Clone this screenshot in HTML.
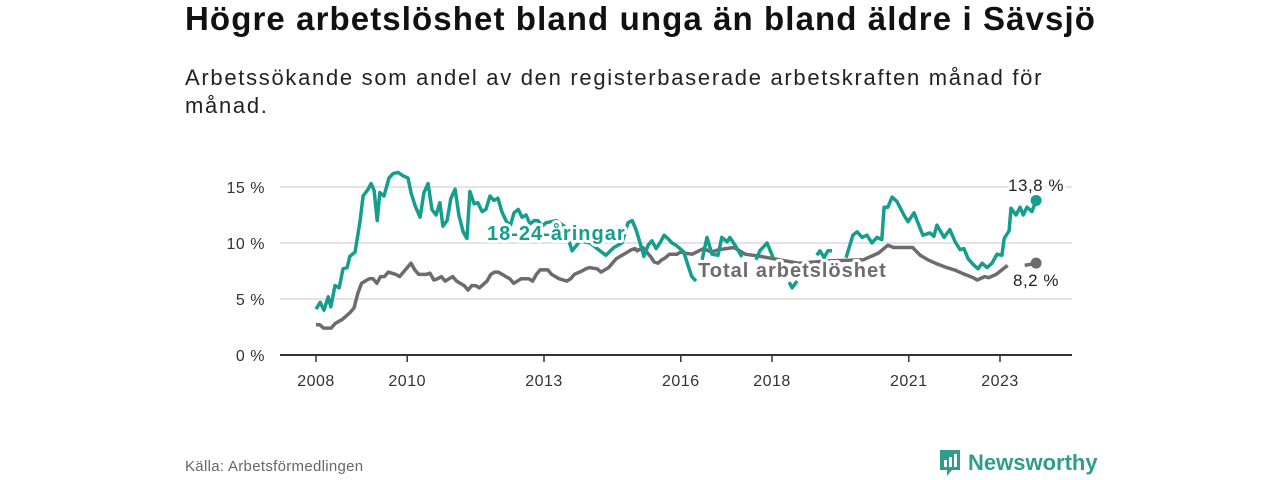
<!DOCTYPE html>
<html><head><meta charset="utf-8"><style>
body{margin:0;width:1280px;height:480px;background:#fff;font-family:"Liberation Sans","DejaVu Sans",sans-serif;overflow:hidden;position:relative}
.t{position:absolute;left:185px;top:0px;font-size:33px;font-weight:bold;color:#111;white-space:nowrap;letter-spacing:1.1px}
.s{position:absolute;left:185px;top:64px;font-size:22px;color:#222;line-height:28px;width:900px;letter-spacing:1.7px;white-space:nowrap}
.src{position:absolute;left:185px;top:458px;font-size:15px;color:#666;letter-spacing:0.3px}
</style></head><body>
<div class="t">Högre arbetslöshet bland unga än bland äldre i Sävsjö</div>
<div class="s">Arbetssökande som andel av den registerbaserade arbetskraften månad för<br>månad.</div>
<div class="src">Källa: Arbetsförmedlingen</div>
<svg width="1280" height="480" style="position:absolute;left:0;top:0" id="chart"></svg>
<script>
const yTicks=[0,5,10,15];
const yTickLabels=["0 %","5 %","10 %","15 %"];
const xTickYears=[2008,2010,2013,2016,2018,2021,2023];
const youthMonths=[0,1.1,2.1,3.2,3.9,5,6.1,7.1,8.2,8.9,10.3,11.6,12.4,13.7,14.5,15.3,16.1,16.8,17.9,19.2,20.3,21.6,22.9,24.2,25,26.1,27.4,28.4,29.5,30.5,31.6,32.6,33.4,34.5,35.5,36.6,37.6,38.7,39.7,40.5,41.6,42.6,43.7,44.7,45.8,46.8,47.9,48.9,50,51.1,52.1,53.2,54.2,55.3,56.3,57.4,58.4,59.5,60.5,63.2,65.3,67.4,69.5,72.1,74.7,76.3,78.4,80.5,82.1,83.2,84.2,85.3,86.3,87.4,88.4,89.5,90.5,91.6,92.6,93.7,94.7,95.8,96.8,97.9,98.9,100,100.8,101.6,102.9,104.2,105.8,106.8,108.2,108.9,110.3,112.1,114,115.8,116.8,118.7,120.3,122,124.5,125.3,126.6,129,131.8,132.6,133.7,134.7,135.8,138,139.5,141.3,142.4,143.7,145,146.3,147.6,148.9,149.5,150.5,151.6,152.9,154.7,155.8,157.4,158.4,159.7,161.6,162.6,163.4,165.3,166.8,168.2,169.5,170.5,171.6,172.9,174.2,175.3,176.6,177.9,179.2,180.5,181.1,182.4,182.9,184.2,185.3,186.1,187.1,188.4,189.5];
const youthValues=[4.1,4.7,4.0,5.2,4.3,6.2,6.0,7.7,7.8,8.8,9.2,12.0,14.2,14.8,15.3,14.7,12.0,14.5,14.2,15.8,16.2,16.3,16.0,15.8,14.5,13.3,12.3,14.5,15.3,13.0,12.5,13.6,11.5,12.0,14.0,14.8,12.5,11.0,10.4,14.6,13.5,13.6,12.8,13.0,14.2,13.8,14.0,12.8,12.0,11.5,12.7,13.0,12.3,12.5,11.7,12.0,12.0,11.5,11.8,12.0,11.5,9.3,10.2,10.0,9.3,8.9,9.6,10.0,11.8,12.0,11.2,10.0,8.8,9.8,10.2,9.5,10.0,10.7,10.4,10.0,9.8,9.5,9.2,8.0,7.0,6.6,null,8.5,10.5,9.0,8.9,10.5,10.1,10.5,9.8,8.75,null,8.5,9.3,10.0,8.7,null,6.5,6.0,6.6,null,8.9,9.3,8.7,9.3,9.3,null,8.7,10.7,11.0,10.5,10.7,10.0,10.5,10.3,13.2,13.2,14.1,13.7,12.5,11.9,12.7,11.8,10.7,10.9,10.6,11.6,10.5,11.2,10.1,9.4,9.5,8.6,8.1,7.7,8.2,7.8,8.2,9.0,8.9,10.4,11.1,13.1,12.5,13.2,12.5,13.2,12.8,13.8];
const totalMonths=[0,1,2,4,5,7,9,10,11,12,14,15,16,17,18,19,21,22,23,24,25,26,27,29,30,31,32,33,34,35,36,37,39,40,41,42,43,45,46,47,48,50,51,52,53,54,56,57,58,59,61,62,63,64,66,67,68,70,71,72,74,75,77,78,79,81,82,83,84,84.5,86,87,88,89,90,91,92,93,95,96,97,99,102,104,106,110,113,117,122,127,135,144,148,150.5,152,154,157,159,161,163,166,168,170,173,174,176,177,179,182,184,186.5,188,189.5];
const totalValues=[2.7,2.7,2.4,2.4,2.8,3.2,3.8,4.2,5.5,6.4,6.8,6.8,6.4,7.0,7.0,7.4,7.2,7.0,7.4,7.8,8.2,7.6,7.2,7.2,7.3,6.7,6.8,7.0,6.6,6.8,7.0,6.6,6.2,5.8,6.2,6.2,6.0,6.6,7.2,7.4,7.4,7.0,6.8,6.4,6.6,6.8,6.8,6.6,7.2,7.6,7.6,7.2,7.0,6.8,6.6,6.8,7.2,7.5,7.7,7.8,7.7,7.4,7.8,8.2,8.6,9.0,9.2,9.4,9.5,9.3,9.6,9.2,8.8,8.3,8.2,8.5,8.7,9.0,9.0,9.2,9.1,9.0,9.5,9.2,9.4,9.6,9.0,8.8,8.5,8.2,8.4,8.5,9.1,9.8,9.6,9.6,9.6,8.9,8.5,8.2,7.8,7.6,7.3,6.9,6.7,7.0,6.9,7.2,8.0,null,8.0,8.1,8.2];
const teal="#159e8e", gray="#6d6b6e";
const svg=document.getElementById('chart');
const NS="http://www.w3.org/2000/svg";
const X0=280,X1=1072;
function xScale(m){return 316+m*3.8;}
function xYear(y){return xScale((y-2008)*12);}
function yScale(v){return 355-v*11.2;}
function mk(tag,attrs,parent){const e=document.createElementNS(NS,tag);for(const k in attrs)e.setAttribute(k,attrs[k]);(parent||svg).appendChild(e);return e;}
yTicks.forEach((v,i)=>{
  if(v>0){const g=mk('line',{x1:X0,x2:X1,y1:yScale(v),y2:yScale(v),stroke:'#dcdcdc','stroke-width':1.5});
  
  }
  const t=mk('text',{x:265,y:yScale(v)+6,'text-anchor':'end','font-size':16,fill:'#333','letter-spacing':0.5});
  t.textContent=yTickLabels[i];
  
  
});
const ax=mk('line',{x1:X0,x2:X1,y1:355,y2:355,stroke:'#333','stroke-width':2});


xTickYears.forEach(y=>{
  const x=xYear(y);
  const tk=mk('line',{x1:x,x2:x,y1:355,y2:362,stroke:'#333','stroke-width':1.5});
  
  
  const t=mk('text',{x:x,y:386,'text-anchor':'middle','font-size':16,fill:'#333','letter-spacing':0.5});
  t.textContent=y;
  
  
});
function pathD(ms,vs){let d='',pen=false;for(let i=0;i<ms.length;i++){if(vs[i]===null){pen=false;continue;}d+=(pen?'L':'M')+xScale(ms[i]).toFixed(1)+' '+yScale(vs[i]).toFixed(1);pen=true;}return d;}
const pt=mk('path',{d:pathD(totalMonths,totalValues),fill:'none',stroke:gray,'stroke-width':3.5,'stroke-linejoin':'round'});


const py=mk('path',{d:pathD(youthMonths,youthValues),fill:'none',stroke:teal,'stroke-width':3.5,'stroke-linejoin':'round'});


const lt=totalMonths.length-1, ly=youthMonths.length-1;
const d1=mk('circle',{cx:xScale(totalMonths[lt]),cy:yScale(totalValues[lt]),r:5.5,fill:gray});


const d2=mk('circle',{cx:xScale(youthMonths[ly]),cy:yScale(youthValues[ly]),r:5.5,fill:teal});


function lbl(txt,x,y,col,bold,name,anchor,ls){const t=mk('text',{x:x,y:y,'font-size':bold?20:17,'font-weight':bold?'bold':'normal',fill:col,stroke:'#fff','stroke-width':6,'paint-order':'stroke','stroke-linejoin':'round','text-anchor':anchor||'start','letter-spacing':ls||0});t.textContent=txt;

}
lbl('18-24-åringar',487,240,teal,true,'youth-series-label','start',1);
lbl('Total arbetslöshet',698,277,gray,true,'total-series-label','start',1);
lbl(youthValues[ly].toFixed(1).replace('.',',')+' %',1036,191,'#222',false,'youth-end-value','middle',0.5);
lbl(totalValues[lt].toFixed(1).replace('.',',')+' %',1036,286,'#222',false,'total-end-value','middle',0.5);
</script>
<div style="position:absolute;left:938px;top:450px;height:26px;display:flex;align-items:center">
<svg width="24" height="30" viewBox="0 0 24 30"><path d="M2 2h20v20H14l-5 6v-6H2z" fill="#2f9c8c"/><rect x="6" y="12" width="3" height="7" fill="#fff"/><rect x="11" y="9" width="3" height="10" fill="#fff"/><rect x="16" y="6" width="3" height="13" fill="#fff"/></svg>
<span style="font-size:22px;font-weight:bold;color:#2f9c8c;margin-left:6px">Newsworthy</span></div>
</body></html>
